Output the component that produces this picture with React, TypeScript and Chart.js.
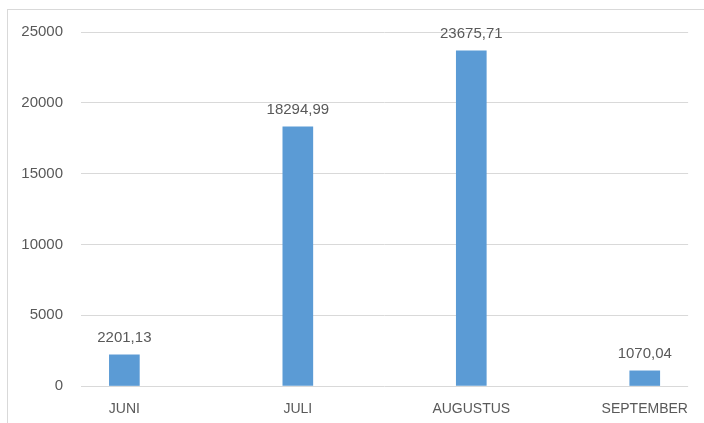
import React, { useEffect, useRef } from "react";
import { Chart, registerables } from "chart.js";

Chart.register(...registerables);

const categories = ["JUNI", "JULI", "AUGUSTUS", "SEPTEMBER"];
const values = [2201.13, 18294.99, 23675.71, 1070.04];
const yTicks = [0, 5000, 10000, 15000, 20000, 25000];

const FONT = "'Liberation Sans', Arial, sans-serif";
const TEXT = "#595959";
const GRID = "#d9d9d9";
const BAR = "#5B9BD5";

const fmt = (v: number) => v.toFixed(2).replace(".", ",");

const labelPlugin = {
  id: "barLabels",
  afterDatasetsDraw(chart: any) {
    const ctx = chart.ctx;
    const meta = chart.getDatasetMeta(0);
    ctx.save();
    ctx.font = `15px ${FONT}`;
    ctx.fillStyle = TEXT;
    ctx.textAlign = "center";
    ctx.textBaseline = "alphabetic";
    meta.data.forEach((el: any, i: number) => {
      ctx.fillText(fmt(values[i]), el.x, el.y - 13);
    });
    ctx.restore();
  },
};

export default function App() {
  const ref = useRef<HTMLCanvasElement | null>(null);
  useEffect(() => {
    if (!ref.current) return;
    const chart = new Chart(ref.current, {
      type: "bar",
      data: {
        datasets: [
          {
            data: values.map((v, i) => ({ x: i, y: v })),
            backgroundColor: BAR,
            barThickness: 30,
          },
        ],
      },
      options: {
        animation: false,
        responsive: false,
        maintainAspectRatio: false,
        layout: { padding: { top: 32, right: 15, bottom: 0, left: 0 } },
        plugins: { legend: { display: false }, tooltip: { enabled: false } },
        scales: {
          x: {
            type: "linear",
            offset: false,
            min: -0.25,
            max: 3.25,
            afterBuildTicks: (s: any) => {
              s.ticks = categories.map((_, i) => ({ value: i }));
            },
            afterFit: (s: any) => {
              s.height = 37;
            },
            grid: { display: false, drawTicks: false, offset: false },
            border: { display: false },
            ticks: {
              autoSkip: false,
              maxRotation: 0,
              padding: 15,
              color: TEXT,
              font: { family: FONT, size: 14 },
              callback: (v: any) => categories[Number(v)] ?? "",
            },
          },
          y: {
            min: 0,
            max: 25000,
            afterBuildTicks: (s: any) => {
              s.ticks = yTicks.map((v) => ({ value: v }));
            },
            afterFit: (s: any) => {
              s.width = 81;
            },
            grid: { color: GRID, drawTicks: false, lineWidth: 1 },
            border: { display: false },
            ticks: {
              padding: 18,
              color: TEXT,
              font: { family: FONT, size: 15 },
              callback: (v: any) => String(v),
            },
          },
        },
      },
      plugins: [labelPlugin],
    });
    return () => chart.destroy();
  }, []);

  return (
    <div
      style={{
        position: "absolute",
        left: 0,
        top: 0,
        width: 704,
        height: 423,
        overflow: "hidden",
        background: "#fff",
      }}
    >
      <div
        style={{
          position: "absolute",
          left: 7,
          top: 9,
          width: 697,
          height: 414,
          borderLeft: `1px solid ${GRID}`,
          borderTop: `1px solid ${GRID}`,
          boxSizing: "border-box",
        }}
      />
      <canvas
        ref={ref}
        width={704}
        height={423}
        style={{ position: "absolute", left: 0, top: 0, width: 704, height: 423 }}
      />
    </div>
  );
}
